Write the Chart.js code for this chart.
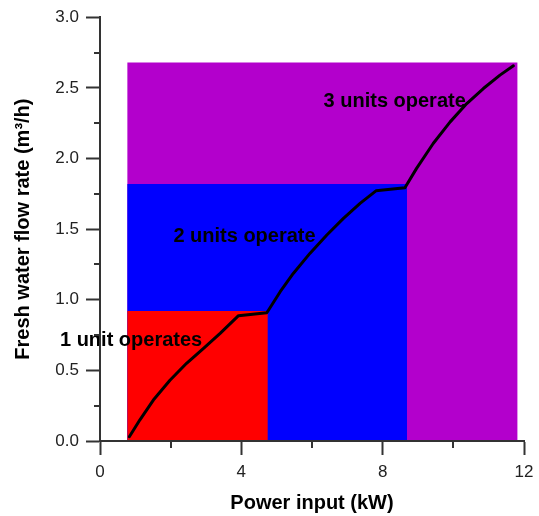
<!DOCTYPE html>
<html>
<head>
<meta charset="utf-8">
<script src="https://cdn.jsdelivr.net/npm/chart.js@4"></script>
<style>
html,body{margin:0;padding:0;background:#fff;}
#wrap{width:539px;height:516px;position:relative;}
</style>
</head>
<body>
<div id="wrap"><canvas id="c" width="539" height="516"></canvas></div>
<script>
// ---- data ----
const curveX = [0.83, 1.13, 1.51, 1.98, 2.45, 2.93, 3.40, 3.92, 4.72, 4.74, 5.10, 5.47, 5.94, 6.42, 6.89, 7.36, 7.81, 8.63, 8.96, 9.43, 9.91, 10.38, 10.85, 11.32, 11.70];
const curveY = [0.03, 0.15, 0.29, 0.43, 0.55, 0.656, 0.762, 0.887, 0.908, 0.915, 1.057, 1.186, 1.328, 1.458, 1.576, 1.682, 1.771, 1.792, 1.93, 2.106, 2.259, 2.389, 2.495, 2.59, 2.656];
const zoneNames = ['1 unit', '2 units', '3 units'];
const zoneStart = [0.77, 0.77, 0.77];
const zoneEnd = [4.75, 8.69, 11.82];
const zoneTop = [0.92, 1.82, 2.68];
const zoneColors = ['#FF0000', '#0000FF', '#B300CC'];
const labelTexts = ['1 unit operates', '2 units operate', '3 units operate'];
const labelX = [0.88, 4.09, 8.34];
const labelY = [0.672, 1.412, 2.365];
const xTicks = [0, 4, 8, 12];
const xMinorTicks = [2, 6, 10];
const yTicks = [0, 0.5, 1.0, 1.5, 2.0, 2.5, 3.0];
const yMinorTicks = [0.25, 0.75, 1.25, 1.75, 2.25, 2.75];

const FONT = '"Liberation Sans", Arial, sans-serif';
const AXIS = '#333';

const datasets = [{
  label: 'Fresh water flow rate',
  data: curveX.map((x, i) => ({x: x, y: curveY[i]})),
  borderColor: '#000',
  borderWidth: 3,
  pointRadius: 0,
  tension: 0,
  fill: false,
  borderCapStyle: 'round',
  borderJoinStyle: 'round'
}];
for (let i = 0; i < zoneNames.length; i++) {
  datasets.push({
    label: zoneNames[i],
    data: [{x: zoneStart[i], y: zoneTop[i]}, {x: zoneEnd[i], y: zoneTop[i]}],
    borderColor: 'rgba(0,0,0,0)',
    borderWidth: 0,
    backgroundColor: zoneColors[i],
    pointRadius: 0,
    fill: 'origin',
    tension: 0
  });
}

const extras = {
  id: 'extras',
  afterDatasetsDraw(chart) {
    const ctx = chart.ctx, xs = chart.scales.x, ys = chart.scales.y;
    ctx.save();
    ctx.fillStyle = '#000';
    ctx.font = 'bold 20px ' + FONT;
    ctx.textAlign = 'center';
    ctx.textBaseline = 'alphabetic';
    for (let i = 0; i < labelTexts.length; i++) {
      ctx.fillText(labelTexts[i], xs.getPixelForValue(labelX[i]), ys.getPixelForValue(labelY[i]));
    }
    ctx.restore();
  },
  afterDraw(chart) {
    const ctx = chart.ctx, xs = chart.scales.x, ys = chart.scales.y;
    const a = chart.chartArea;
    ctx.save();
    ctx.strokeStyle = AXIS;
    ctx.lineWidth = 2;
    ctx.beginPath();
    xMinorTicks.forEach(v => {
      const p = Math.round(xs.getPixelForValue(v));
      ctx.moveTo(p, a.bottom);
      ctx.lineTo(p, a.bottom + 7);
    });
    yMinorTicks.forEach(v => {
      const p = Math.round(ys.getPixelForValue(v));
      ctx.moveTo(a.left, p);
      ctx.lineTo(a.left - 6, p);
    });
    ctx.stroke();
    ctx.restore();
  }
};

new Chart(document.getElementById('c'), {
  type: 'line',
  data: {datasets: datasets},
  plugins: [extras],
  options: {
    responsive: false,
    animation: false,
    parsing: true,
    layout: {padding: {left: 0, top: 17, right: 15, bottom: 0}},
    plugins: {legend: {display: false}, tooltip: {enabled: false}},
    scales: {
      x: {
        type: 'linear',
        min: 0, max: 12,
        afterFit(s) { s.height = 75; s.paddingRight = 10; s.paddingLeft = 0; },
        afterBuildTicks(s) { s.ticks = xTicks.map(v => ({value: v})); },
        ticks: {font: {family: FONT, size: 17}, color: '#222', padding: 7, maxRotation: 0,
                callback: v => String(v)},
        grid: {drawOnChartArea: false, drawTicks: true, tickLength: 14, tickWidth: 2, tickColor: AXIS},
        border: {display: true, color: AXIS, width: 2, z: 1},
        title: {display: true, text: 'Power input (kW)', font: {family: FONT, size: 20, weight: 'bold'},
                color: '#000', padding: {top: 0, bottom: 1}}
      },
      y: {
        type: 'linear',
        min: 0, max: 3,
        afterFit(s) { s.width = 100; },
        afterBuildTicks(s) { s.ticks = yTicks.map(v => ({value: v})); },
        ticks: {font: {family: FONT, size: 17}, color: '#222', padding: 7,
                callback: v => Number(v).toFixed(1)},
        grid: {drawOnChartArea: false, drawTicks: true, tickLength: 14, tickWidth: 2, tickColor: AXIS},
        border: {display: true, color: AXIS, width: 2, z: 1},
        title: {display: true, text: 'Fresh water flow rate (m³/h)', font: {family: FONT, size: 20, weight: 'bold'},
                color: '#000', padding: {top: 11, bottom: 0}}
      }
    }
  }
});
</script>
</body>
</html>
